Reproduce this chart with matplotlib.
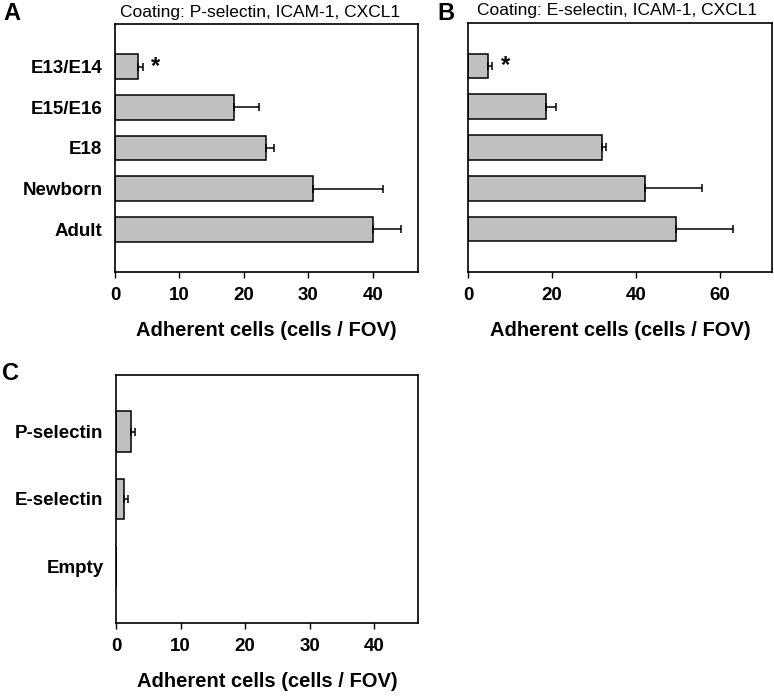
import matplotlib
matplotlib.use("Agg")
import matplotlib.pyplot as plt
import numpy as np

plt.rcParams['font.family'] = ['Liberation Sans', 'DejaVu Sans']

# ---- data ----
stages = ["E13/E14", "E15/E16", "E18", "Newborn", "Adult"]
p_sel_mean = [3.5, 18.4, 23.4, 30.7, 40.0]
p_sel_err = [0.8, 3.9, 1.2, 10.8, 4.3]
e_sel_mean = [4.8, 18.7, 32.0, 42.3, 49.7]
e_sel_err = [1.0, 2.4, 1.0, 13.5, 13.6]
ctrl_cats = ["P-selectin", "E-selectin", "Empty"]
ctrl_mean = [2.4, 1.2, 0.0]
ctrl_err = [0.6, 0.7, 0.0]

title_a = "Coating: P-selectin, ICAM-1, CXCL1"
title_b = "Coating: E-selectin, ICAM-1, CXCL1"
xlabel = "Adherent cells (cells / FOV)"

W, H = 774, 696
fig = plt.figure(figsize=(W / 100, H / 100), dpi=100)

def px_axes(l, t, r, b):
    return fig.add_axes([l / W, 1 - b / H, (r - l) / W, (b - t) / H])

BAR_COLOR = "#c0c0c0"

def draw(ax, cats, mean, err, xlim, xticks, margin):
    y = np.arange(len(cats))
    ax.barh(y, mean, height=0.6, color=BAR_COLOR, edgecolor="black", linewidth=1.1, zorder=2)
    ax.errorbar(mean, y, xerr=[np.zeros(len(err)), err], fmt="none", ecolor="black",
                elinewidth=1.1, capsize=3, capthick=1.1, zorder=3)
    ax.set_ylim(len(cats) - 1 + margin, -margin)
    ax.set_xlim(*xlim)
    ax.set_xticks(xticks)
    ax.set_yticks(y)
    ax.set_yticklabels(cats, fontsize=13.5, fontweight="bold")
    ax.tick_params(axis="y", length=0, pad=9)
    ax.tick_params(axis="x", length=4, width=1, direction="out", pad=7, labelsize=13.5)
    for lab in ax.get_xticklabels():
        lab.set_fontweight("bold")
    for s in ax.spines.values():
        s.set_linewidth(1.2)
    ax.set_xlabel(xlabel, fontsize=14.5, fontweight="bold", labelpad=12)

# Panel A
axA = px_axes(115, 24, 418, 272)
draw(axA, stages, p_sel_mean, p_sel_err, (0, 47), [0, 10, 20, 30, 40], 1.05)
axA.annotate("*", xy=(p_sel_mean[0] + p_sel_err[0], 0), xytext=(6, 0), textcoords="offset points",
             ha="left", va="center", fontsize=17, fontweight="bold")
fig.text(260 / W, 1 - 12 / H, title_a, ha="center", va="center", fontsize=12.5)
fig.text(3 / W, 1 - 13 / H, "A", ha="left", va="center", fontsize=17, fontweight="bold")

# Panel B
axB = px_axes(468, 23, 772, 272)
draw(axB, stages, e_sel_mean, e_sel_err, (0, 72.5), [0, 20, 40, 60], 1.05)
axB.set_yticklabels([])
axB.annotate("*", xy=(e_sel_mean[0] + e_sel_err[0], 0), xytext=(6, 0), textcoords="offset points",
             ha="left", va="center", fontsize=17, fontweight="bold")
fig.text(617 / W, 1 - 11 / H, title_b, ha="center", va="center", fontsize=12.5)
fig.text(437 / W, 1 - 13 / H, "B", ha="left", va="center", fontsize=17, fontweight="bold")

# Panel C
axC = px_axes(116, 375, 418, 623)
draw(axC, ctrl_cats, ctrl_mean, ctrl_err, (0, 46.8), [0, 10, 20, 30, 40], 0.84)
fig.text(2 / W, 1 - 374 / H, "C", ha="left", va="center", fontsize=17, fontweight="bold")

fig.savefig("out.png", dpi=100)
